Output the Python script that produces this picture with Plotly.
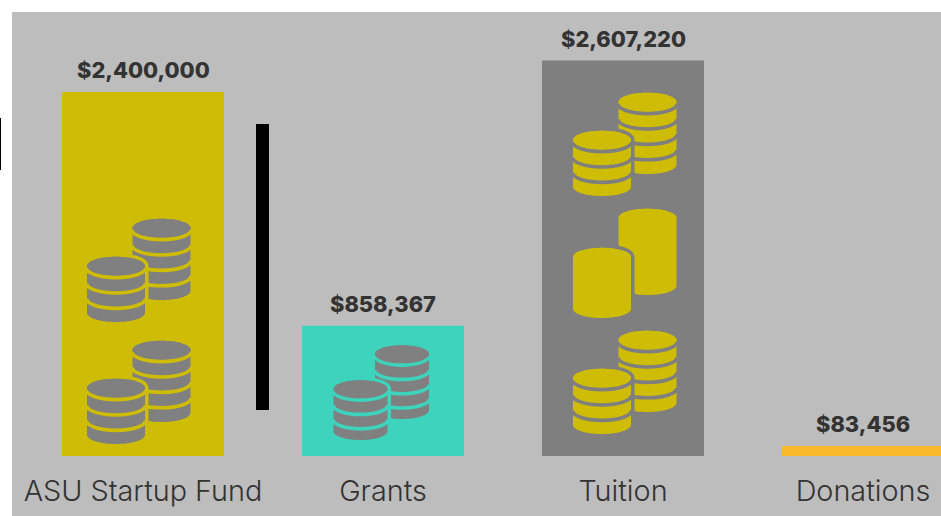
import plotly.graph_objects as go

categories = ["ASU Startup Fund", "Grants", "Tuition", "Donations"]
label_amounts = [2400000, 858367, 2607220, 83456]
bar_heights = [2400000, 858367, 2607220, 66000]
bar_colors = ["#CFBC04", "#3DD3BC", "#7F7F7F", "#F9B928"]

BG = "#BDBDBD"
TEXT = "#333333"
W, H = 941, 516
PL, PT = 12, 12
BASE_PX, UNIT_PX = 456, 240
FIRST_PX = 143
PX_PER_VAL = 364 / 2400000


def X(px):
    return (px - FIRST_PX) / UNIT_PX


def Y(py):
    return (BASE_PX - py) / PX_PER_VAL


K = 0.5523


def ell_path(cx, cy, rx, ry):
    return (f"M{X(cx-rx)},{Y(cy)} C{X(cx-rx)},{Y(cy-K*ry)} {X(cx-K*rx)},{Y(cy-ry)} {X(cx)},{Y(cy-ry)} "
            f"C{X(cx+K*rx)},{Y(cy-ry)} {X(cx+rx)},{Y(cy-K*ry)} {X(cx+rx)},{Y(cy)} "
            f"C{X(cx+rx)},{Y(cy+K*ry)} {X(cx+K*rx)},{Y(cy+ry)} {X(cx)},{Y(cy+ry)} "
            f"C{X(cx-K*rx)},{Y(cy+ry)} {X(cx-rx)},{Y(cy+K*ry)} {X(cx-rx)},{Y(cy)} Z")


def body_path(cx, cy, rx, ry, bottom):
    return (f"M{X(cx-rx)},{Y(cy)} C{X(cx-rx)},{Y(cy-K*ry)} {X(cx-K*rx)},{Y(cy-ry)} {X(cx)},{Y(cy-ry)} "
            f"C{X(cx+K*rx)},{Y(cy-ry)} {X(cx+rx)},{Y(cy-K*ry)} {X(cx+rx)},{Y(cy)} "
            f"L{X(cx+rx)},{Y(bottom-ry)} "
            f"C{X(cx+rx)},{Y(bottom-ry+K*ry)} {X(cx+K*rx)},{Y(bottom)} {X(cx)},{Y(bottom)} "
            f"C{X(cx-K*rx)},{Y(bottom)} {X(cx-rx)},{Y(bottom-ry+K*ry)} {X(cx-rx)},{Y(bottom-ry)} Z")


def arc_path(cx, cy, rx, ry):
    return (f"M{X(cx-rx)},{Y(cy)} C{X(cx-rx)},{Y(cy+K*ry)} {X(cx-K*rx)},{Y(cy+ry)} {X(cx)},{Y(cy+ry)} "
            f"C{X(cx+K*rx)},{Y(cy+ry)} {X(cx+rx)},{Y(cy+K*ry)} {X(cx+rx)},{Y(cy)}")


def stack(shapes, cx, cy, rx, ry, n, pitch, bottom, fg, band, halo=None):
    if halo:
        shapes.append(dict(type="path", path=body_path(cx, cy, rx, ry, bottom), fillcolor=halo,
                           line=dict(color=halo, width=7), layer="above"))
    shapes.append(dict(type="path", path=body_path(cx, cy, rx, ry, bottom), fillcolor=fg,
                       line=dict(width=0), layer="above"))
    for i in range(n):
        shapes.append(dict(type="path", path=arc_path(cx, cy + 1.8 + i * pitch, rx + 0.5, ry + 0.5),
                           line=dict(color=band, width=3.6), layer="above"))
    shapes.append(dict(type="path", path=ell_path(cx, cy, rx, ry), fillcolor=fg,
                       line=dict(width=0), layer="above"))


def coins(shapes, fcx, fcy, bcx, bcy, rx, ry, pitch, fbot, bbot, fg, band, halo):
    stack(shapes, bcx, bcy, rx, ry, 4, pitch, bbot, fg, band)
    stack(shapes, fcx, fcy, rx, ry, 3, pitch, fbot, fg, band, halo=halo)


shapes = []
GRAY = "#808080"
YEL = bar_colors[0]
TEAL = bar_colors[1]
SLATE = bar_colors[2]
# ASU Startup Fund icons
coins(shapes, 116, 266, 161.5, 228, 29, 9.3, 15.4, 322, 300, GRAY, YEL, YEL)
coins(shapes, 116, 388, 161.5, 350, 29, 9.3, 15.4, 444, 422, GRAY, YEL, YEL)
# Grants icon
coins(shapes, 360.5, 389, 402, 354, 27, 8.8, 14.3, 440, 419, GRAY, TEAL, TEAL)
# Tuition icons
coins(shapes, 602, 140, 647.5, 102, 29, 9.3, 15.4, 196, 174, YEL, SLATE, SLATE)
coins(shapes, 602, 378, 647.5, 340, 29, 9.3, 15.4, 434, 412, YEL, SLATE, SLATE)
# Tuition middle, solid
stack(shapes, 647.5, 218, 29, 9.3, 0, 15.4, 295, YEL, SLATE)
stack(shapes, 602, 257, 29, 9.3, 0, 15.4, 318, YEL, SLATE, halo=SLATE)

# separator bar and stray left rule
shapes.append(dict(type="rect", xref="paper", yref="paper",
                   x0=(256 - PL) / (W - PL), x1=(269 - PL) / (W - PL),
                   y0=(H - 410) / (H - PT), y1=(H - 124) / (H - PT),
                   fillcolor="#000000", line=dict(width=0), layer="above"))
shapes.append(dict(type="rect", xref="paper", yref="paper",
                   x0=(0 - PL) / (W - PL), x1=(1 - PL) / (W - PL),
                   y0=(H - 170) / (H - PT), y1=(H - 118) / (H - PT),
                   fillcolor="#000000", line=dict(width=0), layer="above"))

fig = go.Figure(go.Bar(
    x=list(range(len(categories))), y=bar_heights,
    width=162 / UNIT_PX,
    marker=dict(color=bar_colors, line=dict(width=0)),
    hoverinfo="skip",
))

annotations = [
    dict(x=i, y=h, text=f"${v:,}", showarrow=False, xanchor="center", yanchor="bottom", yshift=7,
         font=dict(family="Inter", size=21.8, color=TEXT, weight=800))
    for i, (v, h) in enumerate(zip(label_amounts, bar_heights))
]

fig.update_layout(
    width=W, height=H,
    margin=dict(l=PL, r=0, t=PT, b=0, pad=0),
    paper_bgcolor="#FFFFFF", plot_bgcolor=BG,
    autosize=False, showlegend=False,
    shapes=shapes, annotations=annotations,
    xaxis=dict(range=[X(PL), X(W)], tickmode="array", tickvals=list(range(len(categories))),
               ticktext=categories, showgrid=False, zeroline=False, showline=False, ticks="",
               anchor="free", position=(H - BASE_PX) / (H - PT), ticklabelstandoff=15,
               tickfont=dict(family="Inter", size=28.8, color=TEXT, weight=300), automargin=False),
    yaxis=dict(range=[Y(H), Y(PT)], visible=False, showgrid=False, zeroline=False),
)

fig.write_html("out.html", config=dict(displayModeBar=False),
               post_script="document.body.style.margin='0';document.documentElement.style.overflow='hidden';")
